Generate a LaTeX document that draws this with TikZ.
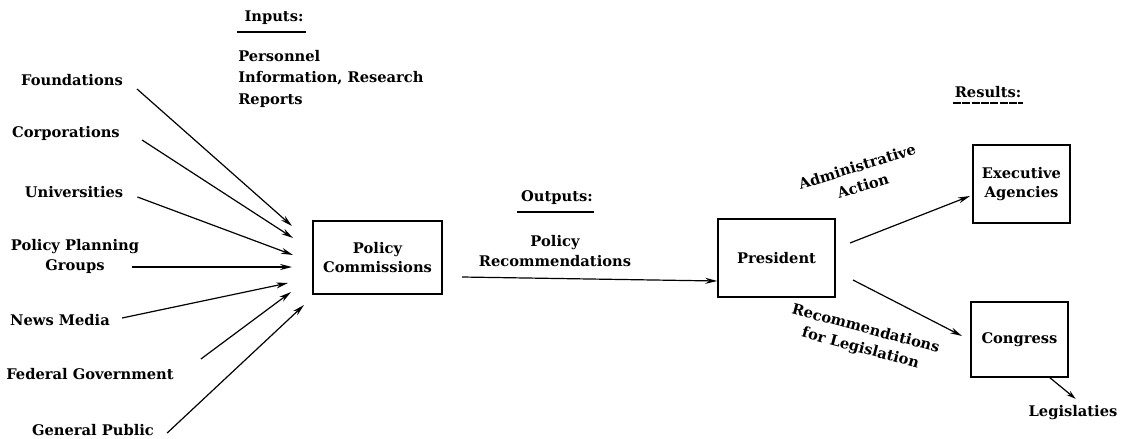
\documentclass[tikz,border=0pt]{standalone}
\usepackage{fontspec}
\setmainfont{DejaVu Serif}
\usetikzlibrary{arrows.meta}
\begin{document}
\begin{tikzpicture}[x=0.75pt,y=-0.75pt,
  lbl/.style={inner sep=0pt, font=\bfseries\fontsize{11}{15}\selectfont, align=center},
  lbll/.style={inner sep=0pt, font=\bfseries\fontsize{11}{16}\selectfont, align=left},
  box/.style={draw, line width=1.1pt, inner sep=0pt, font=\bfseries\fontsize{11}{14}\selectfont, align=center},
  arr/.style={line width=0.9pt, -{Stealth[length=9pt,width=4.5pt]}},
  uline/.style={line width=1.1pt}]
\useasboundingbox (0,0) rectangle (1122,439);
% headings
\node[lbl] (inputs) at (274,18) {Inputs:};
\draw[uline] (237,32) -- (306,32);
\node[lbll, anchor=north west] (inputtext) at (238,50) {Personnel\\Information, Research\\Reports};
\node[lbl] (outputs) at (557,198) {Outputs:};
\draw[uline] (517,212) -- (594,212);
\node[lbl] (outtext) at (555,251) {Policy\\Recommendations};
\node[lbl] (results) at (988,92) {Results:};
\draw[uline, dash pattern=on 6pt off 1pt] (953,103) -- (1023,103);
% sources
\node[lbl] (found) at (72,80) {Foundations};
\node[lbl] (corp) at (66,133) {Corporations};
\node[lbl] (univ) at (74,192) {Universities};
\node[lbl] (ppg) at (75,256) {Policy Planning\\Groups};
\node[lbl] (news) at (60,320) {News Media};
\node[lbl] (fed) at (90,374) {Federal Government};
\node[lbl] (pub) at (93,430) {General Public};
% boxes
\node[box, minimum width=129pt*0.75, minimum height=73pt*0.75] (pc) at (377.5,257.5) {Policy\\Commissions};
\node[box, minimum width=117pt*0.75, minimum height=78pt*0.75] (pres) at (776.5,258) {President};
\node[box, minimum width=97pt*0.75, minimum height=78pt*0.75] (exec) at (1021.5,184) {Executive\\Agencies};
\node[box, minimum width=97pt*0.75, minimum height=75pt*0.75] (cong) at (1019.5,339.5) {Congress};
\node[lbl] (legis) at (1073,413) {Legislaties};
% input arrows
\coordinate (e1) at (292,226);
\coordinate (e2) at (293,238);
\coordinate (e3) at (293,255);
\coordinate (e4) at (292,267);
\coordinate (e5) at (288,283);
\coordinate (e6) at (291,292);
\coordinate (e7) at (304,305);
\draw[arr] ([xshift=14pt*0.75, yshift=-9pt*0.75]found.east) -- (e1);
\draw[arr] ([xshift=22pt*0.75, yshift=-7pt*0.75]corp.east) -- (e2);
\draw[arr] ([xshift=14pt*0.75, yshift=-5pt*0.75]univ.east) -- (e3);
\draw[arr] ([xshift=-7pt*0.75, yshift=-11pt*0.75]ppg.east) -- (e4);
\draw[arr] ([xshift=12pt*0.75, yshift=2pt*0.75]news.east) -- (e5);
\draw[arr] ([xshift=27pt*0.75, yshift=15pt*0.75]fed.east) -- (e6);
\draw[arr] ([xshift=13pt*0.75, yshift=-3pt*0.75]pub.east) -- (e7);
% main arrow
\coordinate (m1) at (462,277);
\draw[arr] (m1) -- (pres.west |- 0,281);
% president arrows
\coordinate (pa1) at (850,243);
\coordinate (pa2) at (853,280);
\draw[arr] (pa1) -- (970,196) coordinate (ea);
\draw[arr] (pa2) -- (962,336) coordinate (ca);
\coordinate (cl) at (1049,377);
\draw[line width=0.9pt, -{Stealth[length=7pt,width=4pt]}] (cl) -- ([xshift=2pt, yshift=5pt]legis.north);
% rotated labels
\node[lbl, rotate=17] (admin) at (860,176) {Administrative\\Action};
\node[lbl, rotate=-15] (recom) at (863,339) {Recommendations\\for Legislation};
\end{tikzpicture}
\end{document}
